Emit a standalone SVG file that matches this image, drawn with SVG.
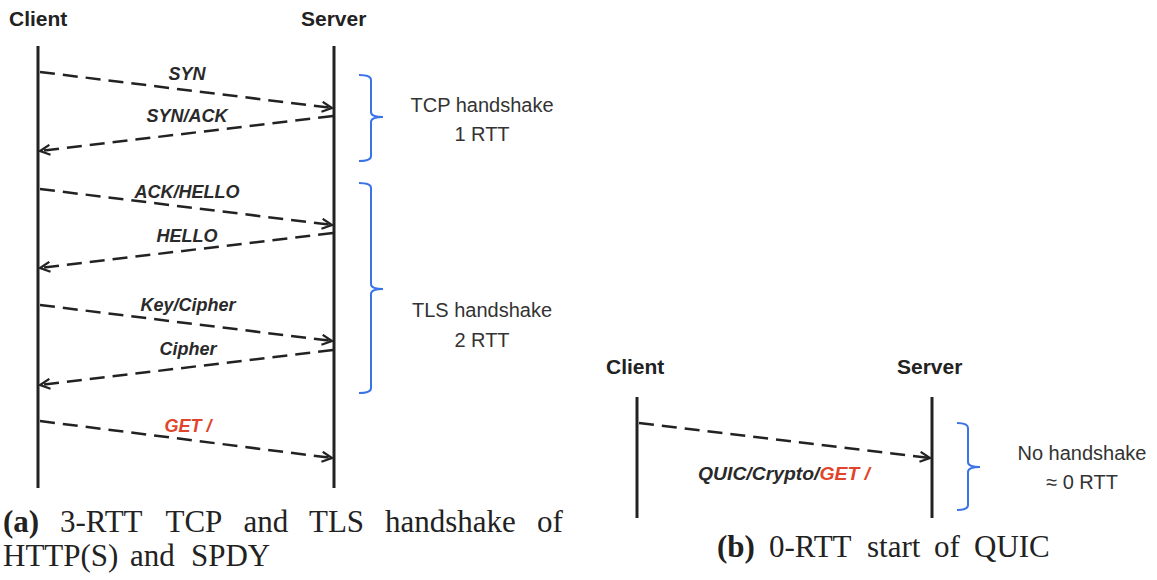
<svg xmlns="http://www.w3.org/2000/svg" width="1157" height="580" viewBox="0 0 1157 580">
<style>
.hdr{font-family:"Liberation Sans",Arial,sans-serif;font-weight:bold;font-size:21px;fill:#222}
.lbl{font-family:"Liberation Sans",Arial,sans-serif;font-weight:bold;font-style:italic;font-size:18px;fill:#2a2a2a;text-anchor:middle}
.red{fill:#e0452b}
.note{font-family:"Liberation Sans",Arial,sans-serif;font-size:20px;fill:#333;text-anchor:middle}
.life{stroke:#222;stroke-width:3;fill:none}
.msg{stroke:#222;stroke-width:2.5;fill:none;stroke-dasharray:15 8}
.brace{stroke:#3b73e8;stroke-width:2;fill:none}
.cap{font-family:"Liberation Serif","Times New Roman",serif;font-size:31px;fill:#222}
</style>
<defs>
<marker id="ah" viewBox="0 0 12 12" refX="11" refY="6" markerWidth="12" markerHeight="12" markerUnits="userSpaceOnUse" orient="auto">
<path d="M1,1 L11,6 L1,11" fill="none" stroke="#222" stroke-width="2.2"/>
</marker>
</defs>
<rect width="1157" height="580" fill="#fff"/>

<g id="panel-a">
<g id="client-a"><text class="hdr" x="9" y="26">Client</text><line class="life" x1="38" y1="46" x2="38" y2="488"/></g>
<g id="server-a"><text class="hdr" x="301" y="26">Server</text><line class="life" x1="334" y1="46" x2="334" y2="488"/></g>
<g id="connectors-a">
<line class="msg" x1="40" y1="72" x2="332" y2="108" marker-end="url(#ah)"/>
<line class="msg" x1="333" y1="116" x2="40" y2="151" marker-end="url(#ah)"/>
<line class="msg" x1="40" y1="189" x2="332" y2="225" marker-end="url(#ah)"/>
<line class="msg" x1="333" y1="233" x2="40" y2="268" marker-end="url(#ah)"/>
<line class="msg" x1="40" y1="305" x2="332" y2="341" marker-end="url(#ah)"/>
<line class="msg" x1="333" y1="350" x2="40" y2="385" marker-end="url(#ah)"/>
<line class="msg" x1="40" y1="421" x2="332" y2="458" marker-end="url(#ah)"/>
</g>
<g id="labels-a">
<text class="lbl" x="187" y="80">SYN</text>
<text class="lbl" x="187" y="122">SYN/ACK</text>
<text class="lbl" x="187" y="198">ACK/HELLO</text>
<text class="lbl" x="187" y="242">HELLO</text>
<text class="lbl" x="188" y="311">Key/Cipher</text>
<text class="lbl" x="188" y="355">Cipher</text>
<text class="lbl red" x="188" y="432">GET /</text>
</g>
<g id="tcp-brace">
<path class="brace" d="M359,75 Q371,75 371,80 L371,112 Q371,117 383,117 Q371,117 371,122 L371,156 Q371,161 359,161"/>
<text class="note" x="482" y="112">TCP handshake</text>
<text class="note" x="482" y="141">1 RTT</text>
</g>
<g id="tls-brace">
<path class="brace" d="M359,183 Q371,183 371,188 L371,284 Q371,289 383,289 Q371,289 371,294 L371,388 Q371,393 359,393"/>
<text class="note" x="482" y="317">TLS handshake</text>
<text class="note" x="482" y="347">2 RTT</text>
</g>
<g id="caption-a">
<text class="cap" y="532"><tspan x="3" font-weight="bold">(a)</tspan><tspan x="60">3-RTT</tspan><tspan x="165.5">TCP</tspan><tspan x="243.5">and</tspan><tspan x="309">TLS</tspan><tspan x="385">handshake</tspan><tspan x="537">of</tspan></text>
<text class="cap" y="566"><tspan x="3">HTTP(S)</tspan><tspan x="130">and</tspan><tspan x="191">SPDY</tspan></text>
</g>
</g>

<g id="panel-b">
<g id="client-b"><text class="hdr" x="606" y="374">Client</text><line class="life" x1="637" y1="397" x2="637" y2="518"/></g>
<g id="server-b"><text class="hdr" x="897" y="374">Server</text><line class="life" x1="932" y1="397" x2="932" y2="518"/></g>
<g id="connectors-b">
<line class="msg" x1="639" y1="423" x2="930" y2="458" marker-end="url(#ah)"/>
</g>
<text class="lbl" x="698" y="480" style="text-anchor:start" textLength="172" lengthAdjust="spacingAndGlyphs">QUIC/Crypto/<tspan class="red">GET /</tspan></text>
<g id="quic-brace">
<path class="brace" d="M957,423 Q968,423 968,428 L968,462 Q968,467 980,467 Q968,467 968,472 L968,505 Q968,510 957,510"/>
<text class="note" x="1082" y="460">No handshake</text>
<text class="note" x="1082" y="489">≈ 0 RTT</text>
</g>
<g id="caption-b">
<text class="cap" y="557"><tspan x="717" font-weight="bold">(b)</tspan><tspan x="769">0-RTT</tspan><tspan x="867">start</tspan><tspan x="934">of</tspan><tspan x="974">QUIC</tspan></text>
</g>
</g>
</svg>
